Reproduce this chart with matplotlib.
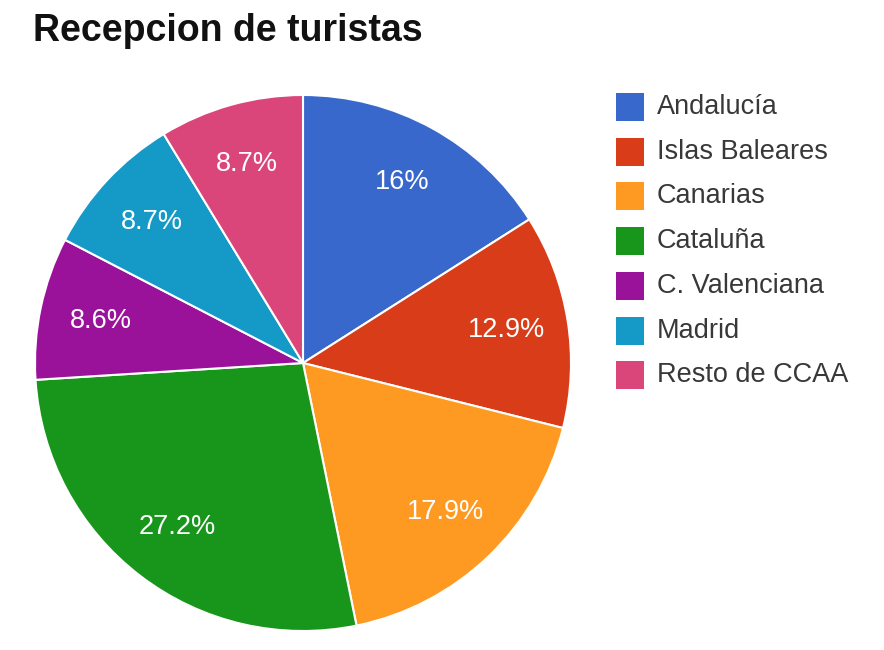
import matplotlib
matplotlib.use('Agg')
import matplotlib.pyplot as plt
from matplotlib.patches import Rectangle

regiones = ['Andalucía', 'Islas Baleares', 'Canarias', 'Cataluña',
            'C. Valenciana', 'Madrid', 'Resto de CCAA']
porcentajes = [16, 12.9, 17.9, 27.2, 8.6, 8.7, 8.7]
etiquetas = ['16%', '12.9%', '17.9%', '27.2%', '8.6%', '8.7%', '8.7%']
colores = ['#3868cb', '#d83c18', '#fe9a22', '#18961b',
           '#9a1299', '#1599c6', '#db467a']

plt.rcParams['font.family'] = ['Liberation Sans', 'DejaVu Sans']

W, H = 884, 650
fig = plt.figure(figsize=(W / 100, H / 100), dpi=100)
ax = fig.add_axes([0, 0, 1, 1])
ax.set_xlim(0, W)
ax.set_ylim(0, H)
ax.set_aspect('equal')
ax.axis('off')

wedges, texts = ax.pie(porcentajes, colors=colores, startangle=90,
                       counterclock=False, center=(303, H - 363), radius=268,
                       labels=etiquetas, labeldistance=0.77,
                       wedgeprops=dict(edgecolor='white', linewidth=1.5),
                       textprops=dict(color='white', fontsize=19.5,
                                      ha='center', va='center'))
ax.set_xlim(0, W)
ax.set_ylim(0, H)

ax.text(33, H - 31, 'Recepcion de turistas', fontsize=27, fontweight='bold',
        color='#111111', ha='left', va='center')

# leyenda
for i, (nombre, c) in enumerate(zip(regiones, colores)):
    yc = H - (107 + i * 44.7)
    ax.add_patch(Rectangle((616, yc - 14), 28, 28, facecolor=c, edgecolor='none'))
    ax.text(657, yc, nombre, fontsize=19.5, color='#383838',
            ha='left', va='center')

fig.savefig('out.png', dpi=100, facecolor='white')
